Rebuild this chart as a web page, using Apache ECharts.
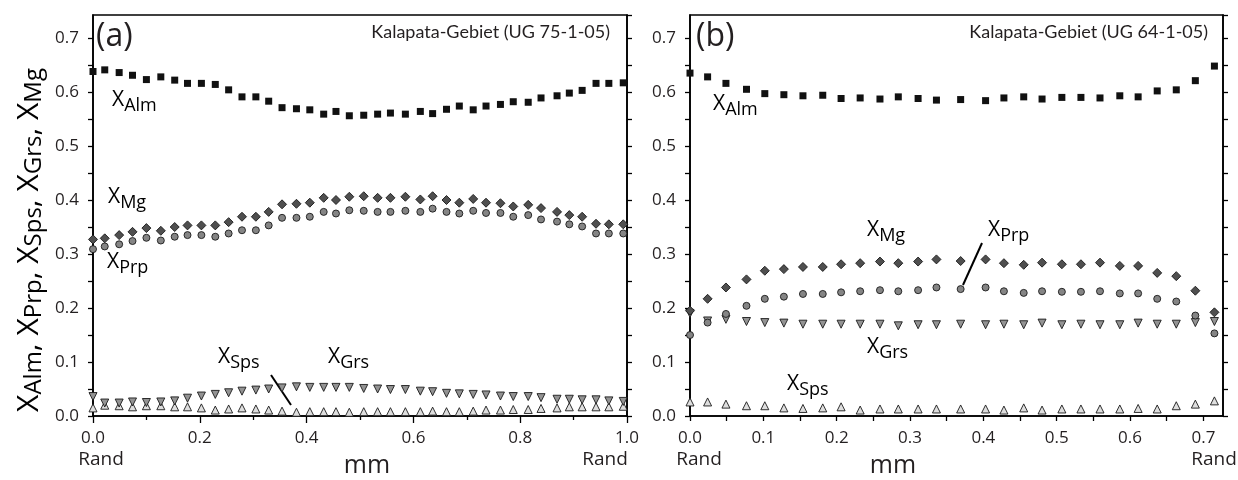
<!DOCTYPE html>
<html>
<head>
<meta charset="utf-8">
<script src="https://cdn.jsdelivr.net/npm/echarts@6/dist/echarts.min.js"></script>
<style>
  html, body { margin: 0; background: #fff; }
  #chart { width: 1238px; height: 480px; }
</style>
</head>
<body>
<div id="chart"></div>
<script>
// ---- panel (a): UG 75-1-05 ----
const xA = [0, 0.022, 0.049, 0.074, 0.100, 0.127, 0.153, 0.177, 0.203, 0.229,
  0.254, 0.279, 0.305, 0.329, 0.354, 0.381, 0.406, 0.432, 0.455, 0.480,
  0.507, 0.533, 0.557, 0.585, 0.613, 0.636, 0.662, 0.686, 0.712, 0.736,
  0.763, 0.787, 0.815, 0.839, 0.869, 0.892, 0.916, 0.942, 0.966, 0.993];
const almA = [0.638, 0.641, 0.636, 0.631, 0.623, 0.628, 0.622, 0.616, 0.616, 0.614,
  0.604, 0.591, 0.591, 0.583, 0.571, 0.569, 0.567, 0.559, 0.564, 0.556,
  0.557, 0.559, 0.561, 0.559, 0.564, 0.560, 0.568, 0.574, 0.567, 0.574,
  0.577, 0.582, 0.581, 0.589, 0.593, 0.598, 0.603, 0.616, 0.616, 0.617];
const mgA = [0.327, 0.329, 0.335, 0.341, 0.348, 0.343, 0.350, 0.353, 0.353, 0.353,
  0.359, 0.369, 0.369, 0.378, 0.392, 0.393, 0.395, 0.404, 0.400, 0.406,
  0.407, 0.404, 0.404, 0.406, 0.401, 0.407, 0.400, 0.395, 0.402, 0.395,
  0.394, 0.388, 0.391, 0.385, 0.378, 0.372, 0.369, 0.356, 0.355, 0.355];
const prpA = [0.309, 0.314, 0.318, 0.324, 0.330, 0.325, 0.332, 0.335, 0.335, 0.332,
  0.338, 0.344, 0.344, 0.353, 0.367, 0.367, 0.369, 0.378, 0.375, 0.381,
  0.380, 0.378, 0.378, 0.380, 0.378, 0.384, 0.378, 0.375, 0.380, 0.376,
  0.376, 0.369, 0.372, 0.364, 0.360, 0.355, 0.351, 0.338, 0.338, 0.338];
const grsA = [0.036, 0.024, 0.024, 0.026, 0.025, 0.026, 0.028, 0.033, 0.037, 0.040,
  0.043, 0.046, 0.048, 0.050, 0.052, 0.054, 0.053, 0.053, 0.053, 0.053,
  0.051, 0.050, 0.049, 0.049, 0.046, 0.045, 0.042, 0.041, 0.040, 0.039,
  0.037, 0.036, 0.036, 0.034, 0.031, 0.031, 0.030, 0.030, 0.028, 0.027];
const spsA = [0.015, 0.020, 0.019, 0.017, 0.019, 0.019, 0.017, 0.017, 0.015, 0.011,
  0.013, 0.015, 0.013, 0.011, 0.009, 0.007, 0.008, 0.008, 0.008, 0.007,
  0.008, 0.008, 0.008, 0.008, 0.008, 0.009, 0.008, 0.008, 0.009, 0.011,
  0.011, 0.012, 0.012, 0.014, 0.015, 0.017, 0.017, 0.017, 0.017, 0.018];

// ---- panel (b): UG 64-1-05 ----
const xB = [0, 0.024, 0.049, 0.077, 0.102, 0.128, 0.154, 0.181, 0.206, 0.232,
  0.259, 0.284, 0.311, 0.336, 0.369, 0.403, 0.428, 0.455, 0.480, 0.507,
  0.533, 0.559, 0.586, 0.611, 0.637, 0.663, 0.689, 0.715];
const almB = [0.635, 0.628, 0.616, 0.605, 0.597, 0.595, 0.593, 0.594, 0.588, 0.589,
  0.587, 0.591, 0.588, 0.585, 0.586, 0.584, 0.589, 0.591, 0.587, 0.590,
  0.590, 0.589, 0.593, 0.591, 0.602, 0.604, 0.621, 0.648];
const mgB = [0.195, 0.217, 0.238, 0.253, 0.269, 0.272, 0.276, 0.276, 0.281, 0.283,
  0.286, 0.283, 0.286, 0.290, 0.287, 0.290, 0.283, 0.280, 0.284, 0.281,
  0.281, 0.284, 0.278, 0.278, 0.265, 0.259, 0.232, 0.192];
const prpB = [0.150, 0.173, 0.189, 0.204, 0.217, 0.221, 0.226, 0.226, 0.229, 0.231,
  0.233, 0.231, 0.233, 0.238, 0.235, 0.238, 0.231, 0.228, 0.231, 0.230,
  0.230, 0.231, 0.227, 0.227, 0.217, 0.212, 0.186, 0.153];
const grsB = [0.190, 0.176, 0.179, 0.175, 0.173, 0.172, 0.170, 0.170, 0.170, 0.170,
  0.170, 0.167, 0.169, 0.169, 0.170, 0.169, 0.170, 0.169, 0.172, 0.169,
  0.170, 0.169, 0.169, 0.172, 0.170, 0.170, 0.173, 0.175];
const spsB = [0.026, 0.026, 0.022, 0.019, 0.019, 0.015, 0.014, 0.015, 0.017, 0.011,
  0.013, 0.013, 0.013, 0.013, 0.013, 0.013, 0.011, 0.015, 0.011, 0.013,
  0.013, 0.013, 0.013, 0.014, 0.013, 0.019, 0.022, 0.028];

const yTicks = ["0.0", "0.1", "0.2", "0.3", "0.4", "0.5", "0.6", "0.7"];

const FONT = '"Open Sans", "Noto Sans", sans-serif';
const TFONT = 'Lato, "Open Sans", sans-serif';
const INK = "#231f20";

const pair = (xs, ys) => xs.map((x, i) => [x, ys[i]]);

// marker look per component
const styles = {
  Sps: { symbol: "triangle", symbolSize: 8, color: "#dedede", rotate: 0 },
  Grs: { symbol: "triangle", symbolSize: 8, color: "#939393", rotate: 180 },
  Prp: { symbol: "circle", symbolSize: 7, color: "#858585", rotate: 0 },
  Mg: { symbol: "diamond", symbolSize: 9, color: "#4f4f4f", rotate: 0 },
  Alm: { symbol: "rect", symbolSize: 7, color: "#111111", rotate: 0 },
};

const mkSeries = (name, data, idx) => {
  const s = styles[name];
  return {
    name: name,
    type: "scatter",
    xAxisIndex: idx,
    yAxisIndex: idx * 2,
    data: data,
    symbol: s.symbol,
    symbolSize: s.symbolSize,
    symbolRotate: s.rotate,
    itemStyle: { color: s.color, borderColor: "#1a1a1a", borderWidth: name === "Alm" ? 0 : 0.9, opacity: 1 },
    emphasis: { disabled: true },
    silent: true,
    z: 3,
  };
};

const yLabel = (v) => {
  const s = v.toFixed(2);
  return yTicks.indexOf(v.toFixed(1)) >= 0 && s.endsWith("0") ? v.toFixed(1) : "";
};

const mkY = (gi, pos) => ({
  type: "value",
  gridIndex: gi,
  position: pos,
  min: 0,
  max: 0.7426,
  interval: 0.05,
  axisLine: { show: true, onZero: false, lineStyle: { color: "#000", width: 1.6 } },
  axisTick: { show: true, length: 5, lineStyle: { color: "#000", width: 1.3 } },
  axisLabel: {
    show: pos === "left",
    showMaxLabel: false,
    formatter: yLabel,
    margin: 14,
    color: INK,
    fontSize: 17,
    fontFamily: FONT,
  },
  splitLine: { show: false },
});

const xLabA = (v) => (Math.abs(v * 5 - Math.round(v * 5)) < 1e-6 ? v.toFixed(1) : "");
const xLabB = (v) => {
  const r = Math.round(v * 10);
  return Math.abs(v * 10 - r) < 1e-6 && r <= 7 ? v.toFixed(1) : "";
};

const sub = (name) => "{m|X}{s|" + name + "}";
const richSmall = {
  m: { fontSize: 21, lineHeight: 24, fontFamily: FONT, color: INK, verticalAlign: "top" },
  s: { fontSize: 18, lineHeight: 20, padding: [7, 0, 0, 0], fontFamily: FONT, color: INK, verticalAlign: "top" },
};
const lbl = (x, y, name) => ({
  type: "text",
  x: x,
  y: y,
  silent: true,
  style: { text: sub(name), rich: richSmall, align: "left", verticalAlign: "top" },
});
const plain = (x, y, text, size, align, fam) => ({
  type: "text",
  x: x,
  y: y,
  silent: true,
  style: { text: text, font: size + "px " + (fam || FONT), fill: INK, align: align || "center", verticalAlign: "middle" },
});

const chart = echarts.init(document.getElementById("chart"));
chart.setOption({
  animation: false,
  backgroundColor: "#fff",
  grid: [
    { left: 93, top: 15, width: 534, height: 401, show: true, borderColor: "#000", borderWidth: 1.6 },
    { left: 690, top: 15, width: 533, height: 401, show: true, borderColor: "#000", borderWidth: 1.6 },
  ],
  xAxis: [
    {
      type: "value",
      gridIndex: 0,
      min: 0,
      max: 1,
      interval: 0.2,
      axisLine: { onZero: false, lineStyle: { color: "#000", width: 1.6 } },
      axisTick: { length: 7, lineStyle: { color: "#000", width: 1.3 } },
      minorTick: { show: true, splitNumber: 2, length: 4, lineStyle: { color: "#000", width: 1.3 } },
      axisLabel: { formatter: xLabA, margin: 14, color: INK, fontSize: 17, fontFamily: FONT },
      splitLine: { show: false },
    },
    {
      type: "value",
      gridIndex: 1,
      min: 0,
      max: 0.7267,
      interval: 0.05,
      axisLine: { onZero: false, lineStyle: { color: "#000", width: 1.6 } },
      axisTick: { length: 5, lineStyle: { color: "#000", width: 1.3 } },
      axisLabel: { formatter: xLabB, showMaxLabel: false, margin: 14, color: INK, fontSize: 17, fontFamily: FONT },
      splitLine: { show: false },
    },
  ],
  yAxis: [mkY(0, "left"), mkY(0, "right"), mkY(1, "left"), mkY(1, "right")],
  series: [
    mkSeries("Sps", pair(xA, spsA), 0),
    mkSeries("Grs", pair(xA, grsA), 0),
    mkSeries("Prp", pair(xA, prpA), 0),
    mkSeries("Mg", pair(xA, mgA), 0),
    mkSeries("Alm", pair(xA, almA), 0),
    mkSeries("Sps", pair(xB, spsB), 1),
    mkSeries("Grs", pair(xB, grsB), 1),
    mkSeries("Prp", pair(xB, prpB), 1),
    mkSeries("Mg", pair(xB, mgB), 1),
    mkSeries("Alm", pair(xB, almB), 1),
  ],
  graphic: [
    // y axis title
    {
      type: "text",
      x: 29,
      y: 240,
      rotation: Math.PI / 2,
      silent: true,
      style: {
        text: "{m|X}{s|Alm}{m|, X}{s|Prp}{m|, X}{s|Sps}{m|, X}{s|Grs}{m|, X}{s|Mg}",
        align: "center",
        verticalAlign: "middle",
        rich: {
          m: { fontSize: 30, lineHeight: 30, fontFamily: FONT, color: INK, verticalAlign: "top" },
          s: { fontSize: 24, lineHeight: 26, padding: [8, 0, 0, 0], fontFamily: FONT, color: INK, verticalAlign: "top" },
        },
      },
    },
    // panel titles
    plain(96, 37, "(a)", 32, "left"),
    plain(610, 32, "Kalapata-Gebiet (UG 75-1-05)", 18, "right", TFONT),
    plain(696, 37, "(b)", 32, "left"),
    plain(1208, 32, "Kalapata-Gebiet (UG 64-1-05)", 18, "right", TFONT),
    // x axis extras
    plain(101, 460, "Rand", 19),
    plain(605, 460, "Rand", 19),
    plain(699, 460, "Rand", 19),
    plain(1214, 460, "Rand", 19),
    plain(367, 466, "mm", 25),
    plain(893, 466, "mm", 25),
    // component labels, panel (a)
    lbl(112, 90, "Alm"),
    lbl(108, 187, "Mg"),
    lbl(107, 252, "Prp"),
    lbl(218, 347, "Sps"),
    lbl(328, 347, "Grs"),
    // component labels, panel (b)
    lbl(713, 94, "Alm"),
    lbl(867, 220, "Mg"),
    lbl(988, 220, "Prp"),
    lbl(867, 337, "Grs"),
    lbl(787, 374, "Sps"),
    // leader lines
    { type: "line", silent: true, shape: { x1: 271, y1: 375, x2: 291, y2: 405 }, style: { stroke: "#000", lineWidth: 2 } },
    { type: "line", silent: true, shape: { x1: 982, y1: 243, x2: 963, y2: 285 }, style: { stroke: "#000", lineWidth: 2 } },
  ],
});
</script>
</body>
</html>
